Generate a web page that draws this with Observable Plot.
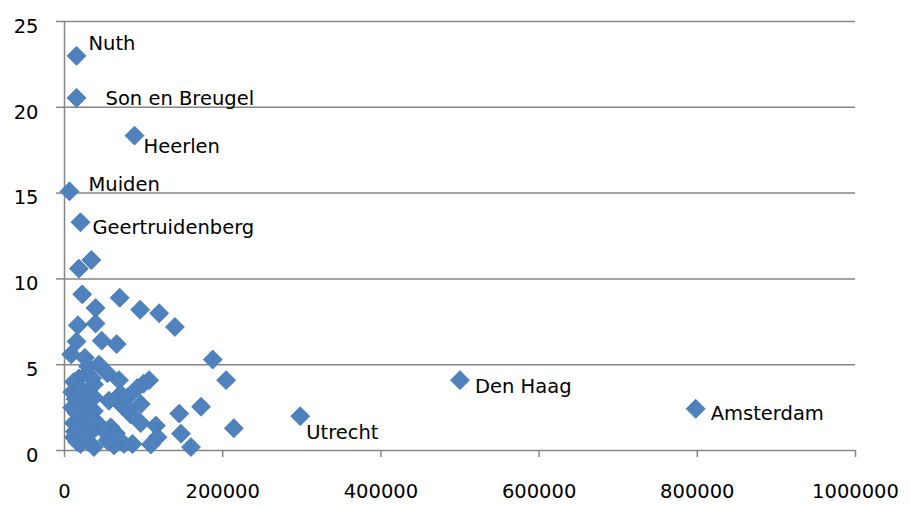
<!DOCTYPE html>
<html><head><meta charset="utf-8">
<script src="https://cdn.jsdelivr.net/npm/d3@7"></script>
<script src="https://cdn.jsdelivr.net/npm/@observablehq/plot@0.6"></script>
<style>body{margin:0;background:#fff} svg{display:block}</style>
</head><body><div id="chart"></div>
<script>
// Named municipalities
const namedCities = ["Nuth","Son en Breugel","Heerlen","Muiden","Geertruidenberg","Den Haag","Amsterdam","Utrecht"];
const namedPop    = [15200, 15200, 88500, 6300, 20200, 500000, 798000, 298000];
const namedRate   = [23.0, 20.55, 18.35, 15.1, 13.3, 4.1, 2.43, 2.0];

// Other municipalities
const otherPop = [18100,33900,22400,69800,39300,95600,119700,16900,39300,139600,
  15200,47000,66000,8500,25800,187400,43600,204300,107000,68900,
  172600,145100,214100,159900,147200,115500,117600,109100,96400,96400,
  83800,73200,71000,92200,85900,75300,62600,58400,37200,20300,
  11800,11800,9800,9800,18100,28800,54200,37200,37200,24500,
  37200,24500,41500,49900,33000,28800,54200,56200,79600,30000,
  14000,65000,26000,100000,80000,
  12000,20000,28000,15000,22000,30000,16000,25000,35000,13000,32000];
const otherRate = [10.6,11.1,9.1,8.9,8.3,8.2,8.0,7.3,7.4,7.2,
  6.35,6.4,6.2,5.6,5.4,5.3,5.0,4.1,4.1,4.1,
  2.55,2.15,1.3,0.2,0.98,1.45,0.77,0.35,1.6,2.7,
  2.1,2.6,3.3,3.65,0.38,0.38,0.3,1.35,0.2,0.38,
  0.77,1.6,2.5,3.4,4.2,4.5,4.5,3.85,3.1,2.9,
  2.3,1.9,1.6,1.15,1.05,0.58,0.58,2.9,3.1,4.9,
  3.0,1.0,1.2,3.9,2.4,
  4.0,3.6,3.3,2.2,1.4,2.6,0.5,0.9,4.2,1.1,1.8];

const xTicks = [0, 200000, 400000, 600000, 800000, 1000000];
const yTicks = [0, 5, 10, 15, 20, 25];

// label offsets (styling)
const labelOffset = {
  "Nuth": [12, -12], "Son en Breugel": [29, 1], "Heerlen": [9, 11], "Muiden": [19, -7],
  "Geertruidenberg": [12, 5], "Den Haag": [15, 7], "Amsterdam": [15, 5], "Utrecht": [6, 17]
};

const named = namedCities.map((c, i) => ({city: c, pop: namedPop[i], rate: namedRate[i]}));
const others = otherPop.map((p, i) => ({pop: p, rate: otherRate[i]}));
const all = others.concat(named);

const gray = "#868686";
const font = "DejaVu Sans";

const chart = Plot.plot({
  width: 911, height: 507,
  marginLeft: 64, marginRight: 56, marginTop: 21, marginBottom: 57,
  x: {domain: [0, 1000000], label: null},
  y: {domain: [0, 25], label: null},
  style: {fontFamily: font, fontSize: "19.5px", color: "#000", background: "#fff"},
  marks: [
    Plot.ruleY(yTicks, {stroke: gray, strokeWidth: 1.5}),
    Plot.ruleX([0], {stroke: gray, strokeWidth: 1.5}),
    Plot.axisY({ticks: yTicks, tickSize: 8, tickFormat: () => "", stroke: gray, strokeWidth: 1.5, strokeOpacity: 1}),
    Plot.axisY({ticks: yTicks, tickSize: 0, tickPadding: 26, dy: 5, fill: "#000", fontSize: 19.5}),
    Plot.axisX({ticks: xTicks, tickSize: 7, tickPadding: 27, stroke: gray, strokeWidth: 1.5, strokeOpacity: 1,
      fill: "#000", fontSize: 19.5, tickFormat: d => String(d)}),
    Plot.dot(all, {x: "pop", y: "rate", symbol: "diamond2", r: 8.5, fill: "#4F81BD", stroke: "#4A7EBB", strokeWidth: 1}),
    ...named.map(d => Plot.text([d], {x: "pop", y: "rate", text: "city", textAnchor: "start",
      dx: labelOffset[d.city][0], dy: labelOffset[d.city][1], fill: "#000", fontSize: 19.5}))
  ]
});
document.getElementById("chart").append(chart);
</script>
</body></html>
